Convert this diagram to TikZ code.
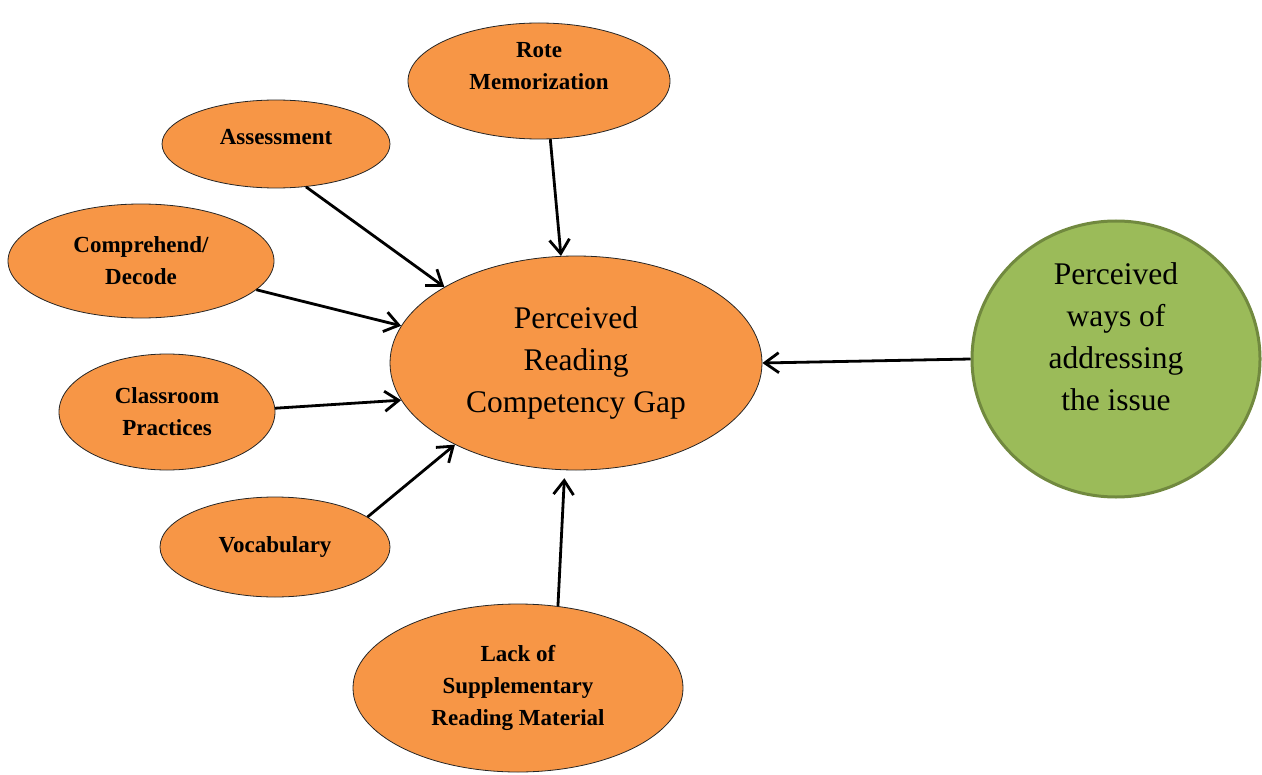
\documentclass[tikz,border=0pt]{standalone}
\usepackage{fontspec}
\setmainfont{Liberation Serif}
\usetikzlibrary{shapes.geometric,arrows.meta}
\definecolor{cause}{HTML}{F79646}
\definecolor{remedy}{HTML}{9BBB59}
\definecolor{remedyline}{HTML}{71893F}
\begin{document}
\begin{tikzpicture}[x=0.5pt, y=-0.5pt,
  >={Straight Barb[length=7pt,width=10pt]},
  factor/.style={draw=black!85, line width=0.4pt, fill=cause, ellipse, inner sep=0pt,
    align=center, font=\fontsize{11.5}{16}\selectfont\bfseries},
  link/.style={->, line width=1.4pt}]
\useasboundingbox (0,0) rectangle (1262,775);
\node[factor, minimum width=131pt, minimum height=58pt, text depth=15pt] (rote) at (539,81) {Rote\\Memorization};
\node[factor, minimum width=114pt, minimum height=44pt, text depth=7pt] (assess) at (276,144) {Assessment};
\node[factor, minimum width=133pt, minimum height=57pt] (decode) at (141,261) {Comprehend/\\Decode};
\node[factor, minimum width=108pt, minimum height=58pt] (class) at (167,412) {Classroom\\Practices};
\node[factor, minimum width=115pt, minimum height=50pt] (vocab) at (275,547) {Vocabulary};
\node[factor, minimum width=165pt, minimum height=84pt] (lack) at (518,688) {Lack of\\Supplementary\\Reading Material};
\node[draw=black!85, line width=0.4pt, fill=cause, ellipse, inner sep=0pt, align=center,
  font=\fontsize{15.75}{21}\selectfont, minimum width=186pt, minimum height=107pt] (gap) at (576,363)
  {Perceived\\Reading\\Competency Gap};
\node[draw=remedyline, line width=1.5pt, fill=remedy, ellipse, inner sep=0pt, align=center,
  font=\fontsize{15.75}{21}\selectfont, minimum width=144pt, minimum height=138pt, text depth=22pt] (ways) at (1116,359)
  {Perceived\\ways of\\addressing\\the issue};
\draw[link] (rote.-79) -- (gap.98);
\draw[link] (assess.-55) -- (gap.150);
\draw[link] (decode.-14) -- (gap.168);
\draw[link] (class.2) -- (gap.192);
\draw[link] (vocab.18) -- (gap.214);
\draw[link, shorten >=4pt] (lack.64) -- (gap.-96);
\draw[link] (ways.west) -- (gap.east);
\end{tikzpicture}
\end{document}
